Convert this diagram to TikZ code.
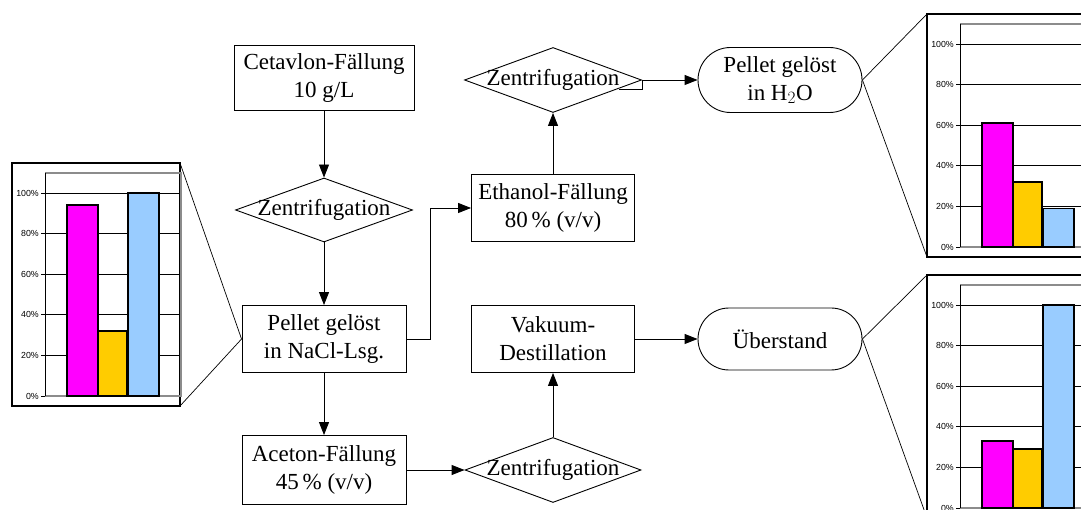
\documentclass[tikz,border=0pt]{standalone}
\usepackage{fontspec}
\setmainfont{Liberation Serif}
\newfontfamily\chartfont{Liberation Sans}
\usetikzlibrary{arrows.meta,shapes.geometric,shapes.misc}
\definecolor{barmag}{HTML}{FF00FF}
\definecolor{baryel}{HTML}{FFCC00}
\definecolor{barblu}{HTML}{99CCFF}
\tikzset{
  fltext/.style={align=center, font=\fontsize{23}{28}\selectfont},
  flbox/.style={fltext, draw=black, line width=0.9pt, rectangle, inner sep=0pt, minimum width=164pt, minimum height=67pt},
  fldia/.style={fltext, draw=black, line width=0.9pt, diamond, shape aspect=2.7, inner xsep=0pt, inner ysep=-10pt, minimum width=177pt, minimum height=64pt},
  flpill/.style={fltext, draw=black, line width=0.9pt, rounded rectangle, inner sep=0pt, minimum width=164pt, minimum height=64pt},
  flarrow/.style={line width=0.9pt, -{Triangle[length=13pt,width=10pt]}},
  flzoom/.style={line width=0.7pt, draw=black},
  chframe/.style={draw=black, line width=1.1pt, fill=white},
  chplot/.style={draw=black!45, line width=1.8pt},
  chgrid/.style={draw=black, line width=0.8pt},
  chbar/.style={draw=black, line width=1.6pt},
  chlabel/.style={font=\chartfont\fontsize{8.8}{10}\selectfont, anchor=east, inner sep=1pt},
}
\begin{document}
\begin{tikzpicture}[x=1pt,y=-1pt]
\useasboundingbox (0,0) rectangle (1081,510);
\clip (0,0) rectangle (1081,510);
% bar charts: left x, top y, three bar values (percent), name
\foreach \L/\T/\m/\g/\b/\n in {12/163/94/32/100/L, 927/14/61/32/19/A, 927/275/33/29/100/B}{
  \draw[chframe] (\L,\T) rectangle (\L+168,\T+243);
  \coordinate (ch\n-nw) at (\L,\T);
  \coordinate (ch\n-ne) at (\L+168,\T);
  \coordinate (ch\n-sw) at (\L,\T+243);
  \coordinate (ch\n-se) at (\L+168,\T+243);
  \draw[chplot] (\L+33,\T+10) -- (\L+169,\T+10) -- (\L+169,\T+233) -- (\L+33,\T+233);
  \foreach \p in {0,...,5}{
    \pgfmathtruncatemacro\pc{\p*20}
    \ifnum\p>0
      \draw[chgrid] (\L+29,\T+233-\p*40.6) -- (\L+168,\T+233-\p*40.6);
    \else
      \draw[chgrid] (\L+29,\T+233) -- (\L+33,\T+233);
    \fi
    \node[chlabel] (lab\n\p) at (\L+28,\T+233-\p*40.6) {\pc\%};
  }
  \draw[chgrid] (\L+33,\T+10) -- (\L+33,\T+233);
  \draw[chbar, fill=barmag] (\L+55,\T+233) rectangle (\L+86,\T+233-\m*2.03);
  \draw[chbar, fill=baryel] (\L+86,\T+233) rectangle (\L+115,\T+233-\g*2.03);
  \draw[chbar, fill=barblu] (\L+116,\T+233) rectangle (\L+147,\T+233-\b*2.03);
}
% flow chart
\node[flbox, minimum width=180pt, minimum height=65pt] (cet) at (324,78) {Cetavlon-Fällung\\10 g/L};
\node[fldia] (zen1) at (324,210) {Zentrifugation};
\node[flbox] (pna) at (324,339) {Pellet gelöst\\in NaCl-Lsg.};
\node[flbox, minimum height=69pt] (ace) at (324,470) {Aceton-Fällung\\45\,\% (v/v)};
\node[fldia, minimum width=176pt, minimum height=65pt] (zen3) at (553,470) {Zentrifugation};
\node[flbox, minimum width=163pt] (vak) at (553,339) {Vakuum-\\Destillation};
\node[flpill, minimum height=62pt] (ueb) at (780,339) {Überstand};
\node[flbox, minimum width=163pt] (eth) at (553,208) {Ethanol-Fällung\\80\,\% (v/v)};
\node[fldia, minimum height=65pt] (zen2) at (553,80) {Zentrifugation};
\node[flpill, minimum height=65pt] (hwo) at (780,80) {Pellet gelöst\\in H$_2$O};
\coordinate (zen2kink) at (619,89);
\draw[flarrow] (cet) -- (zen1);
\draw[flarrow] (zen1) -- (pna);
\draw[flarrow] (pna.east) -- ++(24,0) |- (eth.west);
\draw[flarrow] (pna) -- (ace);
\draw[flarrow] (ace) -- (zen3);
\draw[flarrow] (zen3) -- (vak);
\draw[flarrow] (vak) -- (ueb);
\draw[flarrow] (eth) -- (zen2);
\draw[flarrow] (zen2kink) -| (zen2.east) -- (hwo.west);
% zoom lines
\draw[flzoom] (chL-ne) -- (pna.west) -- (chL-se);
\draw[flzoom] (chA-nw) -- (hwo.east) -- (chA-sw);
\draw[flzoom] (chB-nw) -- (ueb.east) -- (chB-sw);
\end{tikzpicture}
\end{document}
